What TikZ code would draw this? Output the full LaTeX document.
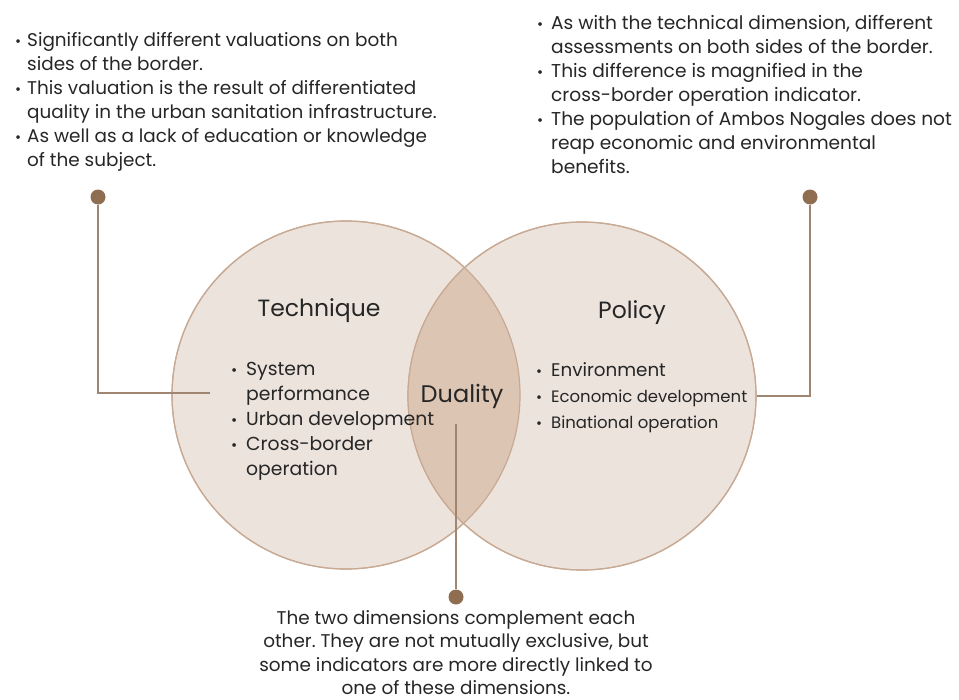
\documentclass[tikz,border=0pt]{standalone}
\usepackage{fontspec}
\setmainfont{Poppins}
\usetikzlibrary{positioning,calc}

\definecolor{circfill}{HTML}{EBE3DC}
\definecolor{circline}{HTML}{C8AA94}
\definecolor{lensfill}{HTML}{DCC5B3}
\definecolor{pinbrown}{HTML}{8E6D51}
\definecolor{linkbrown}{HTML}{A08670}
\definecolor{inkgray}{HTML}{262626}

\newcommand{\itm}[1][12bp]{\makebox[#1][l]{\scalebox{0.8}{\textbullet}}}
\newcommand{\cnt}[1][12bp]{\hspace*{#1}}

\frenchspacing

\begin{document}
\begin{tikzpicture}[
      x=1bp, y=-1bp,
      every node/.style={text=inkgray}
    ]

    \tikzstyle{set} = [circle, draw=circline, line width=1.2bp, fill=circfill, minimum size=348bp, inner sep=0pt]
    \tikzstyle{pin} = [circle, fill=pinbrown, minimum size=15bp, inner sep=0pt]
    \tikzstyle{link} = [draw=linkbrown, line width=1.6bp]
    \tikzstyle{note} = [align=left, inner sep=0pt, anchor=north west, font=\fontsize{18.4bp}{24bp}\selectfont]
    \tikzstyle{title} = [inner sep=0pt, font=\fontsize{23.5bp}{30bp}\selectfont]

    \useasboundingbox (0,0) rectangle (959,700);

    % the two dimensions
    \node [set] (tech) at (346,395) {};
    \node [set] (policy) at (582,396) {};
    \begin{scope}
      \clip (tech.center) circle (174bp);
      \fill [lensfill] (policy.center) circle (174bp);
    \end{scope}
    \draw [circline, line width=1.2bp] (tech.center) circle (174bp);
    \draw [circline, line width=1.2bp] (policy.center) circle (174bp);

    \node [title] (techname) at (319,311) {Technique};
    \node [title] (policyname) at (632,313) {Policy};
    \node [title, font=\fontsize{24bp}{30bp}\selectfont] (duality) at (462,396) {Duality};

    \node [note, font=\fontsize{18.8bp}{25bp}\selectfont] (techlist) at (231,362) {
      \itm[15bp]System\\
      \cnt[15bp]performance\\
      \itm[15bp]Urban development\\
      \itm[15bp]Cross-border\\
      \cnt[15bp]operation};

    \node [note, font=\fontsize{18.3bp}{26bp}\selectfont] (policylist) at (536,362) {
      \itm[15bp]Environment\\
      \itm[15bp]{\fontsize{16.5bp}{26bp}\selectfont Economic development}\\
      \itm[15bp]{\fontsize{16.5bp}{26bp}\selectfont Binational operation}};

    % comments on each dimension
    \node [note] (technote) at (15,32.5) {
      \itm Significantly different valuations on both\\
      \cnt sides of the border.\\
      \itm This valuation is the result of differentiated\\
      \cnt quality in the urban sanitation infrastructure.\\
      \itm As well as a lack of education or knowledge\\
      \cnt of the subject.};

    \node [note, font=\fontsize{18.6bp}{24bp}\selectfont] (policynote) at (537,15) {
      \itm[14bp]As with the technical dimension, different\\
      \cnt[14bp]assessments on both sides of the border.\\
      \itm[14bp]This difference is magnified in the\\
      \cnt[14bp]cross-border operation indicator.\\
      \itm[14bp]The population of Ambos Nogales does not\\
      \cnt[14bp]reap economic and environmental\\
      \cnt[14bp]benefits.};

    \node [note, align=center, anchor=north, font=\fontsize{18.4bp}{23.5bp}\selectfont] (dualnote) at (456,610) {
      The two dimensions complement each\\
      other. They are not mutually exclusive, but\\
      some indicators are more directly linked to\\
      one of these dimensions.};

    % pins and their links
    \coordinate (techend) at (210,393);
    \coordinate (dualend) at (456,424);
    \node [pin] (techpin) at (98,197) {};
    \node [pin] (policypin) at (810,197) {};
    \node [pin] (dualpin) at (456,597) {};

    \draw [link] (techpin.south) |- (techend);
    \draw [link] (policypin.south) |- (policy.east);
    \draw [link] (dualpin.north) -- (dualend);

\end{tikzpicture}
\end{document}
